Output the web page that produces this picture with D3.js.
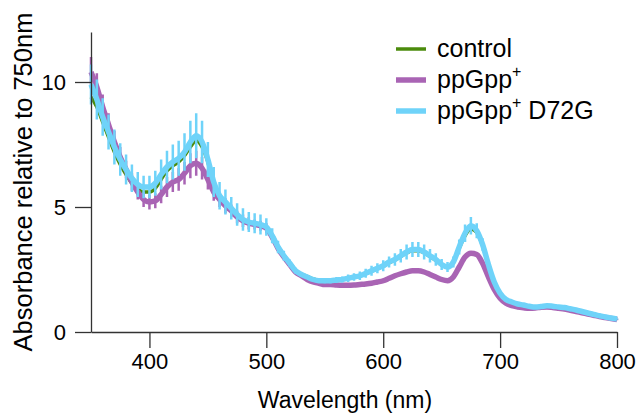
<!DOCTYPE html>
<html lang="en">
<head>
<meta charset="UTF-8">
<script src="https://cdn.jsdelivr.net/npm/d3@7"></script>
<style>
  * { margin: 0; padding: 0; }
  body { background: #fff; font-family: "Liberation Sans", Helvetica, Arial, sans-serif; }
  svg { display: block; }
  .axis path, .axis line { stroke: #333; stroke-width: 1.3; }
  .axis text { font-family: "Liberation Sans", Helvetica, Arial, sans-serif; fill: #000; }
</style>
</head>
<body>
<div id="chart"></div>
<script>
// wavelengths every 5 nm, 350..800
var wavelengths = [];
for (var wl = 350; wl <= 800; wl += 5) wavelengths.push(wl);

// absorbance relative to 750nm
var control = [9.4, 9.0, 8.4, 7.8, 7.2, 6.7, 6.3, 5.95, 5.7, 5.6,
  5.6, 5.75, 6.1, 6.45, 6.65, 6.8, 7.05, 7.4, 7.65, 7.4,
  6.8, 5.95, 5.4, 5.15, 4.92, 4.68, 4.48, 4.38, 4.33, 4.28,
  4.18, 3.85, 3.42, 3.07, 2.77, 2.47, 2.32, 2.22, 2.12, 2.07,
  2.06, 2.06, 2.08, 2.1, 2.14, 2.19, 2.24, 2.33, 2.43, 2.53,
  2.63, 2.77, 2.88, 3.02, 3.16, 3.25, 3.25, 3.17, 3.02, 2.87,
  2.68, 2.6, 2.8, 3.35, 3.85, 4.12, 3.98, 3.45, 2.7, 2.0,
  1.55, 1.3, 1.2, 1.12, 1.08, 1.03, 1.0, 1.02, 1.05, 1.03,
  1.0, 0.98, 0.93, 0.88, 0.82, 0.76, 0.7, 0.65, 0.6, 0.56, 0.52];

var ppGpp = [10.4, 9.8, 9.0, 8.3, 7.6, 7.0, 6.5, 6.0, 5.6, 5.3,
  5.2, 5.25, 5.5, 5.8, 6.0, 6.1, 6.35, 6.65, 6.75, 6.55,
  6.1, 5.6, 5.3, 5.05, 4.85, 4.6, 4.45, 4.35, 4.3, 4.25,
  4.15, 3.8, 3.35, 3.0, 2.7, 2.4, 2.25, 2.1, 2.0, 1.95,
  1.9, 1.9, 1.88, 1.87, 1.87, 1.88, 1.9, 1.92, 1.95, 2.0,
  2.05, 2.15, 2.25, 2.33, 2.4, 2.45, 2.45, 2.4, 2.3, 2.2,
  2.1, 2.05, 2.2, 2.6, 3.0, 3.15, 3.1, 2.75, 2.2, 1.7,
  1.35, 1.15, 1.05, 1.0, 0.97, 0.95, 0.96, 0.99, 1.0, 0.98,
  0.95, 0.92, 0.87, 0.82, 0.77, 0.72, 0.67, 0.62, 0.58, 0.54, 0.5];

var ppGppErr = [0.6, 0.55, 0.5, 0.45, 0.45, 0.4, 0.35, 0.35, 0.3, 0.3,
  0.3, 0.3, 0.35, 0.4, 0.4, 0.45, 0.45, 0.5, 0.5, 0.45,
  0.4, 0.35, 0.3, 0.3, 0.25, 0.25, 0.25, 0.25, 0.2, 0.2,
  0.2, 0.15, 0.1, 0.08, 0.06, 0.05, 0.05, 0.05, 0.05, 0.05,
  0.05, 0.05, 0.05, 0.05, 0.05, 0.05, 0.05, 0.05, 0.05, 0.05,
  0.05, 0.05, 0.05, 0.05, 0.05, 0.05, 0.05, 0.05, 0.05, 0.05,
  0.05, 0.05, 0.05, 0.06, 0.06, 0.06, 0.06, 0.05, 0.05, 0.04,
  0.03, 0.03, 0.03, 0.03, 0.03, 0.03, 0.03, 0.03, 0.03, 0.03,
  0.03, 0.03, 0.03, 0.03, 0.03, 0.03, 0.03, 0.03, 0.03, 0.03, 0.03];

var d72g = [9.9, 9.3, 8.6, 8.0, 7.4, 6.9, 6.5, 6.15, 5.9, 5.8,
  5.8, 5.95, 6.3, 6.6, 6.8, 6.95, 7.2, 7.6, 7.85, 7.6,
  6.9, 6.0, 5.45, 5.2, 4.95, 4.7, 4.5, 4.4, 4.35, 4.3,
  4.2, 3.85, 3.4, 3.05, 2.75, 2.45, 2.3, 2.2, 2.1, 2.05,
  2.05, 2.05, 2.08, 2.1, 2.15, 2.2, 2.25, 2.35, 2.45, 2.55,
  2.65, 2.8, 2.9, 3.05, 3.2, 3.3, 3.3, 3.2, 3.05, 2.9,
  2.7, 2.6, 2.8, 3.4, 3.95, 4.25, 4.05, 3.5, 2.7, 2.0,
  1.55, 1.3, 1.2, 1.12, 1.08, 1.03, 1.0, 1.02, 1.05, 1.03,
  1.0, 0.98, 0.93, 0.88, 0.82, 0.76, 0.7, 0.65, 0.6, 0.56, 0.52];

var d72gErr = [0.8, 0.8, 0.75, 0.7, 0.7, 0.65, 0.6, 0.55, 0.5, 0.45,
  0.45, 0.5, 0.6, 0.65, 0.7, 0.7, 0.75, 0.85, 0.9, 0.85,
  0.7, 0.6, 0.55, 0.5, 0.45, 0.45, 0.45, 0.4, 0.4, 0.4,
  0.35, 0.3, 0.25, 0.2, 0.15, 0.12, 0.1, 0.08, 0.08, 0.08,
  0.1, 0.1, 0.12, 0.12, 0.15, 0.15, 0.17, 0.18, 0.2, 0.2,
  0.22, 0.22, 0.25, 0.27, 0.3, 0.3, 0.3, 0.3, 0.27, 0.25,
  0.22, 0.2, 0.22, 0.3, 0.35, 0.35, 0.3, 0.25, 0.15, 0.1,
  0.06, 0.04, 0.04, 0.03, 0.03, 0.03, 0.03, 0.03, 0.03, 0.03,
  0.03, 0.03, 0.03, 0.03, 0.03, 0.03, 0.03, 0.03, 0.03, 0.03, 0.03];

var xTicks = [400, 500, 600, 700, 800];
var yTicks = [0, 5, 10];

var w = 641, h = 415;

var svg = d3.select("#chart").append("svg")
  .attr("width", w)
  .attr("height", h);

var xScale = d3.scaleLinear().domain([350, 800]).range([91, 617]);
var yScale = d3.scaleLinear().domain([0, 12]).range([332, 32]);

// series, drawn bottom to top
var series = [
  {name: "control", values: control, err: null, color: "#4b8b0c", width: 3.5},
  {name: "ppGpp", values: ppGpp, err: ppGppErr, color: "#a964b4", width: 5.5},
  {name: "d72g", values: d72g, err: d72gErr, color: "#6fd3f9", width: 5.5}
];

var line = d3.line()
  .x(function(d) { return xScale(d[0]); })
  .y(function(d) { return yScale(d[1]); })
  .curve(d3.curveMonotoneX);

series.forEach(function(s) {
  var g = svg.append("g");
  if (s.err) {
    g.selectAll("line")
      .data(wavelengths)
      .enter()
      .append("line")
      .attr("x1", function(d) { return xScale(d); })
      .attr("x2", function(d) { return xScale(d); })
      .attr("y1", function(d, i) { return yScale(s.values[i] - s.err[i]); })
      .attr("y2", function(d, i) { return yScale(s.values[i] + s.err[i]); })
      .attr("stroke", s.color)
      .attr("stroke-width", 2.5);
  }
  g.append("path")
    .datum(wavelengths.map(function(d, i) { return [d, s.values[i]]; }))
    .attr("d", line)
    .attr("fill", "none")
    .attr("stroke", s.color)
    .attr("stroke-width", s.width)
    .attr("stroke-linejoin", "round");
});

// axes
var xAxis = d3.axisBottom(xScale).tickValues(xTicks).tickSize(16).tickSizeOuter(0);
var yAxis = d3.axisLeft(yScale).tickValues(yTicks).tickSize(16).tickSizeOuter(0);

svg.append("g")
  .attr("class", "axis")
  .attr("transform", "translate(0,332)")
  .call(xAxis)
  .call(function(g) {
    g.selectAll("text").attr("font-size", "22px").attr("y", 21).attr("dy", "0.71em");
  });

svg.append("g")
  .attr("class", "axis")
  .attr("transform", "translate(91,0)")
  .call(yAxis)
  .call(function(g) {
    g.selectAll("text").attr("font-size", "22px").attr("x", -25);
  });

svg.append("text")
  .attr("x", 345)
  .attr("y", 408)
  .attr("text-anchor", "middle")
  .attr("font-size", "23px")
  .text("Wavelength (nm)");

svg.append("text")
  .attr("transform", "translate(32,182) rotate(-90)")
  .attr("text-anchor", "middle")
  .attr("font-size", "25.5px")
  .text("Absorbance relative to 750nm");

// legend
var legend = [
  {label: "control", sup: "", rest: "", color: "#4b8b0c", width: 3.5},
  {label: "ppGpp", sup: "+", rest: "", color: "#a964b4", width: 5.5},
  {label: "ppGpp", sup: "+", rest: " D72G", color: "#6fd3f9", width: 5.5}
];

var lg = svg.append("g").selectAll("g")
  .data(legend)
  .enter()
  .append("g")
  .attr("transform", function(d, i) { return "translate(396," + (49 + i * 31) + ")"; });

lg.append("line")
  .attr("x1", 0).attr("x2", 30)
  .attr("stroke", function(d) { return d.color; })
  .attr("stroke-width", function(d) { return d.width; });

var lt = lg.append("text")
  .attr("x", 41)
  .attr("y", 8)
  .attr("font-size", "25px");
lt.append("tspan").text(function(d) { return d.label; });
lt.append("tspan")
  .attr("font-size", "16px")
  .attr("dy", -11)
  .text(function(d) { return d.sup; });
lt.append("tspan")
  .attr("dy", 11)
  .text(function(d) { return d.rest; });
</script>
</body>
</html>
